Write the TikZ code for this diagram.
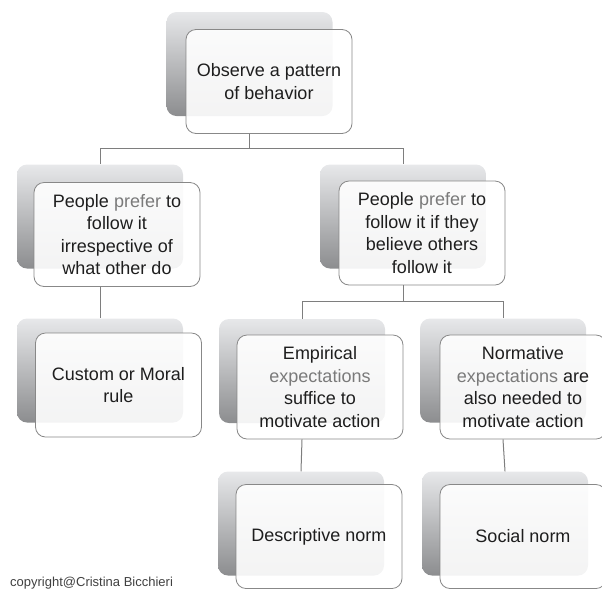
\documentclass[tikz,border=0pt]{standalone}
\usepackage{fontspec}
\setmainfont{Liberation Sans}
\definecolor{txt}{HTML}{1E1E1E}
\definecolor{soft}{HTML}{7A7A7A}
\definecolor{edge}{HTML}{888888}
\definecolor{linec}{HTML}{7E7E7E}
\definecolor{shtop}{HTML}{E7E8EA}
\definecolor{shbot}{HTML}{8C8D8F}
\tikzset{
  backbox/.style={rectangle, rounded corners=10pt, minimum width=166pt, minimum height=104pt,
    inner sep=0pt, top color=shtop, bottom color=shbot, draw=none},
  frontbox/.style={rectangle, rounded corners=10pt, minimum width=166pt, minimum height=104pt,
    inner sep=0pt, fill=white, fill opacity=0.9, text opacity=1, draw=edge, line width=0.8pt,
    align=center, text=txt, font=\fontsize{18}{22.5}\selectfont},
  conn/.style={draw=linec, line width=1pt},
}
\begin{document}
\begin{tikzpicture}[x=1pt,y=-1pt]
\useasboundingbox (0,0) rectangle (602,590);
% back boxes
\node[backbox] (tb) at (249.5,64) {};
\node[backbox] (lb) at (100,216.5) {};
\node[backbox] (rb) at (403,216.5) {};
\node[backbox] (cb) at (100,370.5) {};
\node[backbox] (eb) at (302,371) {};
\node[backbox] (nb) at (503,370.5) {};
\node[backbox] (db) at (301,523.5) {};
\node[backbox] (sb) at (505,523.5) {};
% front boxes
\node[frontbox] (tf) at (269,81.5) {Observe a pattern\\of behavior};
\node[frontbox] (lf) at (117,234.5) {People \textcolor{soft}{prefer} to\\follow it\\irrespective of\\what other do};
\node[frontbox] (rf) at (422,233) {People \textcolor{soft}{prefer} to\\follow it if they\\believe others\\follow it};
\node[frontbox] (cf) at (118.5,385) {Custom or Moral\\rule};
\node[frontbox] (ef) at (320,387) {Empirical\\\textcolor{soft}{expectations}\\suffice to\\motivate action};
\node[frontbox] (nf) at (523,387) {Normative\\\textcolor{soft}{expectations} are\\also needed to\\motivate action};
\node[frontbox] (df) at (319,536.5) {Descriptive norm};
\node[frontbox] (sf) at (523,536.5) {Social norm};
% junctions
\coordinate (j1) at (250,148);
\coordinate (j2) at (403,301);
% connectors
\draw[conn] (tb.center |- tf.south) -- (tb.center |- j1);
\draw[conn] (lb.north |- j1) -- (rb.north |- j1);
\draw[conn] (lb.north |- j1) -- (lb.north);
\draw[conn] (rb.north |- j1) -- (rb.north);
\draw[conn] (rb.center |- rf.south) -- (rb.center |- j2);
\draw[conn] (eb.north |- j2) -- (nb.north |- j2);
\draw[conn] (eb.north |- j2) -- (eb.north);
\draw[conn] (nb.north |- j2) -- (nb.north);
\draw[conn] (lb.center |- lf.south) -- (cb.north);
\draw[conn] (eb.center |- ef.south) -- (db.north);
\draw[conn] (nb.center |- nf.south) -- (sb.north);
% credit
\node[anchor=base west, inner sep=0pt, text=txt!85, font=\fontsize{13}{15}\selectfont] (cr) at (10,586) {copyright@Cristina Bicchieri};
\end{tikzpicture}
\end{document}
